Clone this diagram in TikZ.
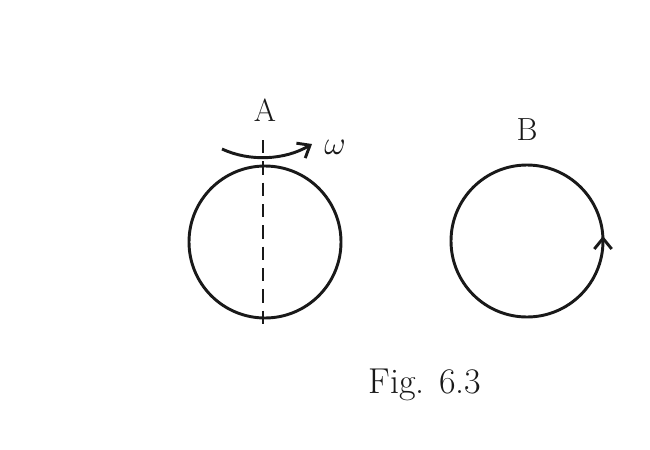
\documentclass[tikz,border=0pt]{standalone}
\usetikzlibrary{arrows.meta}
\begin{document}
\begin{tikzpicture}[x=0.75pt,y=-0.75pt,line width=2.2pt,color={black!90},
  lbl/.style={font=\fontsize{24}{28}\selectfont}]
\useasboundingbox (0,0) rectangle (650,450);
\node[circle,draw,minimum size=152*0.75pt,inner sep=0] (ca) at (265,242) {};
\node[circle,draw,minimum size=152*0.75pt,inner sep=0] (cb) at (527,241) {};
\coordinate (dt) at (263,140);
\coordinate (db) at (263,324);
\draw[dashed,dash pattern=on 10pt off 6pt] (dt) -- (db);
\coordinate (as) at (222,149);
\coordinate (ae) at (312,144);
\draw[-{Straight Barb[length=8pt,width=13pt]}] (as) .. controls (250,162) and (285,160) .. (ae);
\node[lbl] (la) at (265,110) {A};
\node[lbl] (lw) at (335,147) {$\omega$};
\node[lbl] (lb) at (527,130) {B};
\coordinate (bt) at (603,236);
\draw[-{Straight Barb[length=8pt,width=13pt]}] (603,250) -- (bt);
\node[font=\fontsize{27}{32}\selectfont] (fig) at (425,385) {Fig. 6.3};
\end{tikzpicture}
\end{document}
